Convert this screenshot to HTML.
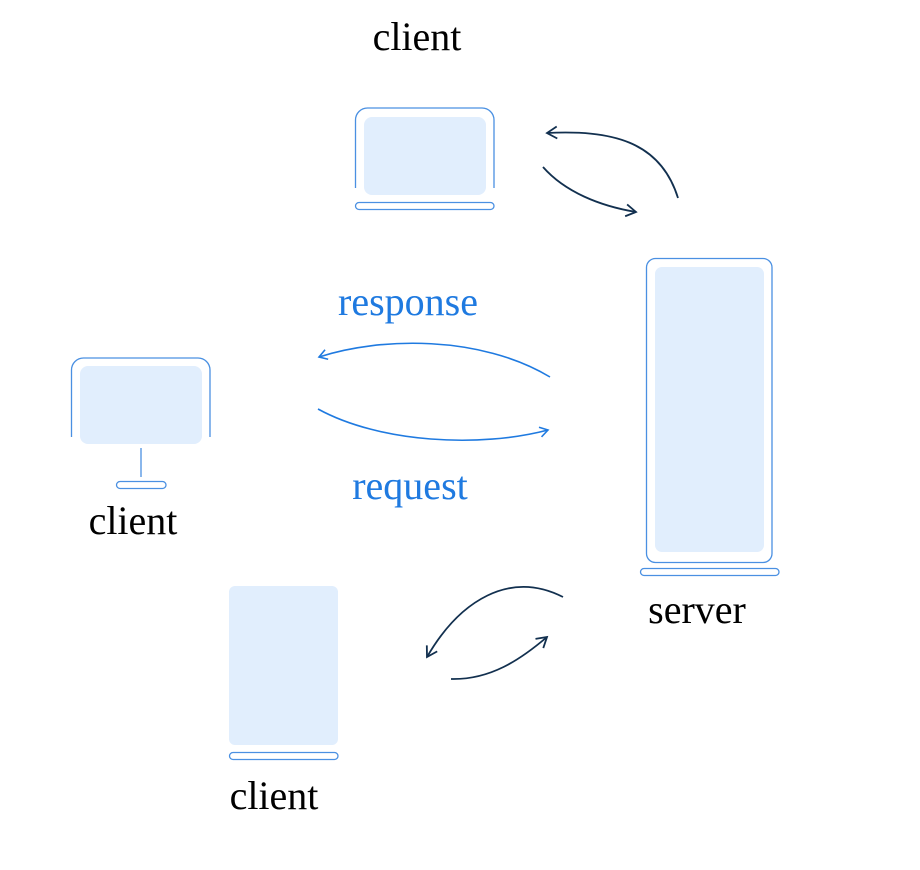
<!DOCTYPE html>
<html><head><meta charset="utf-8"><style>
html,body{margin:0;padding:0;background:#fff;}
svg{display:block;}
text{font-family:"Liberation Serif",serif;font-size:40px;}
</style></head><body>
<svg width="920" height="870" viewBox="0 0 920 870" xmlns="http://www.w3.org/2000/svg">
<defs>
<marker id="hd" viewBox="0 0 14 14" refX="12" refY="7" markerWidth="14" markerHeight="14" markerUnits="userSpaceOnUse" orient="auto">
<path d="M2 1 L12 7 L2 13" fill="none" stroke="#12304f" stroke-width="1.8"/>
</marker>
<marker id="hb" viewBox="0 0 12 12" refX="10" refY="6" markerWidth="12" markerHeight="12" markerUnits="userSpaceOnUse" orient="auto">
<path d="M2 1 L10 6 L2 11" fill="none" stroke="#1f7ae0" stroke-width="1.6"/>
</marker>
</defs>
<g fill="none" stroke="#4a90e2" stroke-width="1.3">
<path d="M355.5 188 V120 a12 12 0 0 1 12 -12 H482 a12 12 0 0 1 12 12 V188"/>
<rect x="355.5" y="202.5" width="138.5" height="7" rx="3.5"/>
<path d="M71.5 437 V370 a12 12 0 0 1 12 -12 H198 a12 12 0 0 1 12 12 V437"/>
<line x1="141" y1="448" x2="141" y2="477"/>
<rect x="116.5" y="481.5" width="49.5" height="7" rx="3.5"/>
<rect x="229.5" y="752.5" width="108.5" height="7" rx="3.5"/>
<rect x="646.5" y="258.5" width="125.5" height="304" rx="9"/>
<rect x="640.5" y="568.5" width="138.5" height="7" rx="3.5"/>
</g>
<g fill="#e1eefd">
<rect x="364" y="117" width="122" height="78" rx="8"/>
<rect x="80" y="366" width="122" height="78" rx="8"/>
<rect x="229" y="586" width="109" height="159" rx="6"/>
<rect x="655" y="267" width="109" height="285" rx="7"/>
</g>
<g fill="none" stroke="#12304f" stroke-width="1.8">
<path d="M678 198 C660 140 610 130 547 133" marker-end="url(#hd)"/>
<path d="M543 167 C565 192 600 206 636 212" marker-end="url(#hd)"/>
<path d="M563 597 C510 570 460 600 427 657" marker-end="url(#hd)"/>
<path d="M451 679 C490 680 520 660 547 637" marker-end="url(#hd)"/>
</g>
<g fill="none" stroke="#1f7ae0" stroke-width="1.6">
<path d="M550 377 C480 335 380 337 319 357" marker-end="url(#hb)"/>
<path d="M318 409 C380 443 480 448 548 430" marker-end="url(#hb)"/>
</g>
<g text-anchor="middle">
<text x="417" y="50" fill="#000">client</text>
<text x="408" y="315" fill="#1f7ae0">response</text>
<text x="410" y="499" fill="#1f7ae0">request</text>
<text x="133" y="534" fill="#000">client</text>
<text x="697" y="623" fill="#000">server</text>
<text x="274" y="809" fill="#000">client</text>
</g>
</svg>
</body></html>
